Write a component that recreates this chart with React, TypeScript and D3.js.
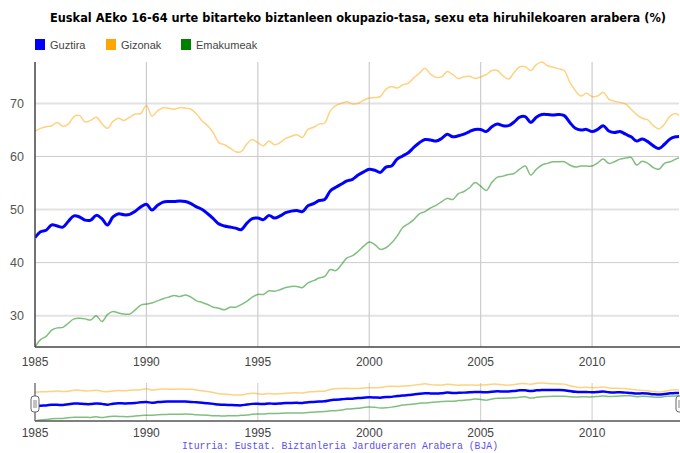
import React from 'react';
import * as d3 from 'd3';

const START_YEAR = 1985;
const title = 'Euskal AEko 16-64 urte bitarteko biztanleen okupazio-tasa, sexu eta hiruhilekoaren arabera (%)';
const source = 'Iturria: Eustat. Biztanleria Jardueraren Arabera (BJA)';
const seriesNames = ['Guztira', 'Gizonak', 'Emakumeak'];
const seriesColors = ['#0000ff', '#ffa500', '#008000'];
const yTicks = [30, 40, 50, 60, 70];
const xTicks = [1985, 1990, 1995, 2000, 2005, 2010];

// quarterly values, 1985 Q1 ...
const guztira = [
  44.7, 45.8, 46.1, 47.1, 46.9, 46.7, 47.8, 48.8, 48.6, 48.0,
  48.0, 48.9, 48.3, 47.1, 48.6, 49.2, 49.0, 49.1, 49.7, 50.5,
  51.0, 49.9, 50.8, 51.4, 51.5, 51.5, 51.6, 51.5, 51.1, 50.5,
  50.0, 49.2, 48.3, 47.3, 46.9, 46.7, 46.5, 46.2, 47.4, 48.3,
  48.4, 48.1, 48.9, 48.4, 48.8, 49.4, 49.7, 49.8, 49.6, 50.7,
  51.1, 51.7, 51.9, 53.5, 54.2, 54.8, 55.4, 55.7, 56.5, 57.1,
  57.6, 57.4, 57.0, 58.0, 58.2, 59.5, 60.1, 60.7, 61.7, 62.6,
  63.2, 63.1, 62.9, 63.4, 64.2, 63.7, 63.9, 64.2, 64.7, 65.1,
  65.1, 64.7, 65.6, 66.1, 65.8, 65.8, 66.5, 67.4, 67.5, 66.4,
  67.4, 67.9, 67.9, 67.8, 67.9, 67.7, 66.4, 65.3, 65.0, 65.1,
  64.7, 65.1, 65.8, 64.8, 64.5, 64.7, 64.2, 63.7, 62.9, 63.3,
  62.8, 62.0, 61.5, 62.3, 63.3, 63.7, 63.8,
];
const gizonak = [
  64.8, 65.3, 65.6, 65.8, 66.4, 65.7, 66.1, 67.5, 67.7, 66.5,
  66.8, 67.4, 66.2, 65.3, 66.6, 67.2, 66.8, 67.4, 68.0, 68.1,
  69.6, 67.6, 68.6, 69.2, 69.1, 68.9, 69.2, 69.1, 68.9, 68.0,
  66.7, 65.8, 64.5, 62.6, 62.2, 61.6, 60.9, 60.9, 62.3, 63.2,
  62.6, 62.0, 62.9, 62.2, 62.6, 63.4, 63.8, 64.1, 63.6, 65.1,
  65.5, 66.1, 66.3, 68.6, 69.6, 70.0, 70.3, 69.9, 70.0, 70.6,
  71.0, 71.1, 71.3, 72.7, 73.2, 72.9, 73.5, 73.8, 74.8, 75.7,
  76.6, 75.5, 74.9, 75.0, 76.0, 75.4, 74.7, 75.0, 75.1, 74.7,
  75.0, 75.4, 76.2, 76.2, 75.2, 74.6, 75.8, 76.9, 76.9, 76.2,
  77.3, 77.8, 77.1, 76.8, 76.5, 76.2, 74.0, 72.4, 71.4, 71.9,
  71.3, 71.4, 72.1, 70.8, 70.4, 70.2, 69.9, 68.9, 67.9, 67.2,
  66.9, 65.8, 65.2, 66.1, 67.6, 68.1, 67.4,
];
const emakumeak = [
  24.1, 25.5, 26.1, 27.3, 27.7, 27.8, 28.6, 29.4, 29.5, 29.4,
  29.2, 30.0, 28.9, 30.2, 30.8, 30.5, 30.3, 30.3, 31.1, 32.0,
  32.2, 32.4, 32.8, 33.2, 33.5, 33.8, 33.6, 33.9, 33.5, 32.8,
  32.5, 32.1, 31.6, 31.4, 31.1, 31.6, 31.6, 32.1, 32.7, 33.5,
  34.0, 34.0, 34.7, 34.6, 34.9, 35.3, 35.5, 35.5, 35.3, 36.2,
  36.6, 37.1, 37.4, 38.7, 38.5, 39.6, 40.9, 41.3, 42.1, 43.1,
  43.9, 43.4, 42.5, 42.8, 43.7, 45.0, 46.6, 47.3, 48.1, 49.2,
  49.6, 50.3, 50.8, 51.5, 52.1, 51.9, 53.0, 53.4, 54.1, 55.1,
  54.4, 53.6, 55.1, 56.1, 56.3, 56.6, 56.8, 57.6, 58.2, 56.5,
  57.6, 58.4, 58.7, 59.0, 59.0, 59.0, 58.4, 58.0, 58.2, 58.2,
  58.2, 58.8, 59.5, 58.7, 59.0, 59.5, 59.7, 59.8, 58.4, 59.1,
  58.7, 57.9, 57.6, 58.7, 59.0, 59.5, 59.9,
];

export default function App() {
  const W = 680, H = 453;
  const left = 35, right = 679, top = 62, bottom = 347;
  const miniTop = 383, miniBottom = 421;
  const series = [guztira, gizonak, emakumeak];
  const all = ([] as number[]).concat(...series);
  const ext = d3.extent(all) as [number, number];
  const x = d3.scaleLinear().domain([START_YEAR, 2013.9]).range([left, right]);
  const y = d3.scaleLinear().domain(ext).range([bottom, top]);
  const yMini = d3.scaleLinear().domain(ext).range([miniBottom, miniTop]);
  const t = (i: number) => START_YEAR + i / 4;
  const line = d3.line<number>().x((_, i) => x(t(i))).y(d => y(d)).curve(d3.curveCatmullRom.alpha(0.5));
  const lineMini = d3.line<number>().x((_, i) => x(t(i))).y(d => yMini(d)).curve(d3.curveCatmullRom.alpha(0.5));
  const drawOrder = [1, 2, 0];
  const font = 'Liberation Sans, Arial, sans-serif';
  const legendX = [35, 106, 181];

  return (
    <svg width={W} height={H} style={{ position: 'absolute', left: 0, top: 0, background: '#fff' }} fontFamily={font}>
      <defs>
        <clipPath id="plotClip"><rect x={left} y={top - 4} width={right - left} height={bottom - top + 4} /></clipPath>
        <clipPath id="miniClip"><rect x={left} y={miniTop - 2} width={right - left} height={miniBottom - miniTop + 2} /></clipPath>
      </defs>
      <text x={358} y={22} textAnchor="middle" fontFamily="DejaVu Sans Condensed, DejaVu Sans, sans-serif" fontWeight="bold" fontSize={11.5} fill="#000" textLength={616} lengthAdjust="spacingAndGlyphs">{title}</text>
      {seriesNames.map((n, k) => (
        <g key={n}>
          <rect x={legendX[k]} y={39} width={10} height={11} fill={seriesColors[k]} />
          <text x={legendX[k] + 15} y={49} fontSize={11} fill="#444">{n}</text>
        </g>
      ))}
      {/* grid */}
      {yTicks.map((v, k) => (
        <line key={v} x1={left} x2={right} y1={y(v)} y2={y(v)} stroke={k % 2 === 0 ? '#e2e2e2' : '#cccccc'} strokeWidth={k % 2 === 0 ? 2 : 1} />
      ))}
      {xTicks.slice(1).map(v => (
        <line key={v} x1={x(v)} x2={x(v)} y1={top} y2={bottom} stroke="#cccccc" strokeWidth={1.2} />
      ))}
      {yTicks.map(v => (
        <text key={v} x={24} y={y(v) + 4.5} textAnchor="end" fontSize={12.5} fill="#555">{v}</text>
      ))}
      <g clipPath="url(#plotClip)">
        {drawOrder.map(k => (
          <path key={k} d={line(series[k]) || ''} fill="none" stroke={seriesColors[k]}
            strokeOpacity={k === 0 ? 1 : 0.5} strokeWidth={k === 0 ? 3 : 1.5} strokeLinejoin="round" />
        ))}
      </g>
      <line x1={left} x2={left} y1={top} y2={bottom} stroke="#444" strokeWidth={1.5} />
      <line x1={left} x2={right + 1} y1={bottom} y2={bottom} stroke="#444" strokeWidth={1.5} />
      {xTicks.map(v => (
        <text key={v} x={x(v)} y={366} textAnchor="middle" fontSize={12} fill="#444">{v}</text>
      ))}
      {/* mini range chart */}
      {xTicks.slice(1).map(v => (
        <line key={v} x1={x(v)} x2={x(v)} y1={miniTop} y2={miniBottom} stroke="#cccccc" strokeWidth={1} />
      ))}
      <g clipPath="url(#miniClip)">
        {drawOrder.map(k => (
          <path key={k} d={lineMini(series[k]) || ''} fill="none" stroke={seriesColors[k]}
            strokeOpacity={k === 0 ? 1 : 0.5} strokeWidth={k === 0 ? 2.5 : 1.5} />
        ))}
      </g>
      <line x1={left} x2={left} y1={miniTop} y2={miniBottom} stroke="#555" strokeWidth={1.2} />
      <line x1={left} x2={right + 1} y1={miniBottom} y2={miniBottom} stroke="#555" strokeWidth={1.5} />
      {[left, right + 1].map((hx, k) => (
        <g key={k}>
          <rect x={hx - 4} y={396} width={8} height={16} rx={3} fill="#fff" stroke="#666" strokeWidth={1} />
          <line x1={hx - 1} x2={hx - 1} y1={400} y2={408} stroke="#666" strokeWidth={0.8} />
          <line x1={hx + 1} x2={hx + 1} y1={400} y2={408} stroke="#666" strokeWidth={0.8} />
        </g>
      ))}
      {xTicks.map(v => (
        <text key={v} x={x(v)} y={437} textAnchor="middle" fontSize={12} fill="#444">{v}</text>
      ))}
      <text x={340} y={449} textAnchor="middle" fontFamily="Liberation Mono, DejaVu Sans Mono, monospace" fontSize={10} fill="#5b4ff0" textLength={316} lengthAdjust="spacingAndGlyphs">{source}</text>
    </svg>
  );
}
